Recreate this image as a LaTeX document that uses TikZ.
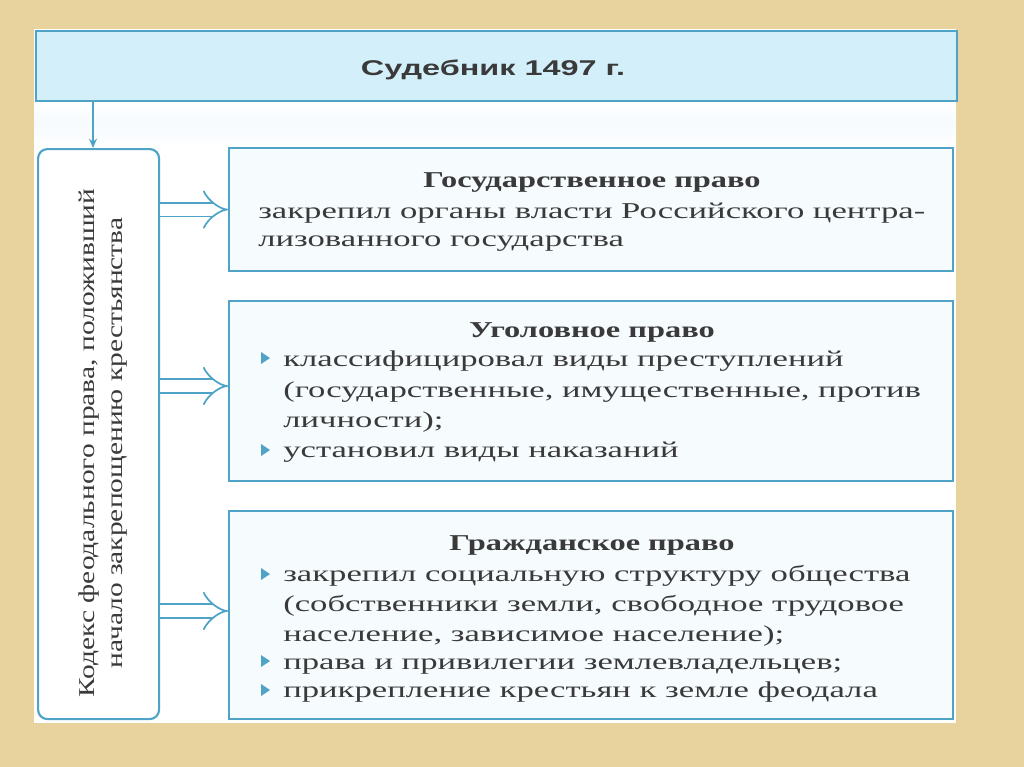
\documentclass[tikz,border=0pt]{standalone}
\usepackage{fontspec}
\usetikzlibrary{arrows.meta}
\newfontfamily\bodyfont{Liberation Serif}[FakeStretch=1.53]
\newfontfamily\ttlfont{Liberation Serif}[FakeStretch=1.43]
\newfontfamily\vfont{Liberation Serif}[FakeStretch=1.3]
\newfontfamily\headfont{Liberation Sans}[FakeStretch=1.52]
\definecolor{tan}{HTML}{E8D39F}
\definecolor{edge}{HTML}{4FA3C6}
\definecolor{barfill}{HTML}{D3F0FA}
\definecolor{boxfill}{HTML}{F6FBFE}
\definecolor{ink}{HTML}{3A3A3A}
\tikzset{
  box/.style={draw=edge, line width=1.6pt, fill=boxfill, anchor=north west, inner sep=0pt},
  ttl/.style={font=\ttlfont\fontsize{17}{19}\selectfont\bfseries, text=ink, inner sep=0pt, anchor=base},
  txt/.style={font=\bodyfont\fontsize{17}{19}\selectfont, text=ink, inner sep=0pt, anchor=base west},
  vtxt/.style={font=\vfont\fontsize{17}{19}\selectfont, text=ink, inner sep=0pt, rotate=90},
  bul/.style={fill=edge},
  dbl/.style={draw=edge, line width=1.3pt, double=white, double distance=9pt, -{Implies}},
  conn/.style={draw=edge, line width=1.2pt, -{Stealth[length=7pt,width=6pt]}}
}
\begin{document}
\begin{tikzpicture}[x=0.75pt,y=-0.75pt]
\useasboundingbox (0,0) rectangle (1024,767);
\fill[tan] (0,0) rectangle (1024,767);
\fill[white] (34,29) rectangle (956,723);
\shade[top color=white, bottom color=white, middle color=boxfill] (34,100) rectangle (956,148);
% title bar
\node[box, fill=barfill, minimum width=921*0.75pt, minimum height=70*0.75pt] (bar) at (35,30) {};
\node[font=\headfont\fontsize{16}{18}\selectfont\bfseries, text=ink, inner sep=0pt] (title) at (493,70) {Судебник 1497 г.};
% left box
\node[box, rounded corners=7pt, fill=white, minimum width=121*0.75pt, minimum height=570*0.75pt] (left) at (37,148) {};
\node[vtxt] (l1) at (89,443) {Кодекс феодального права, положивший};
\node[vtxt] (l2) at (120,443) {начало закрепощению крестьянства};
\draw[conn] (bar.south -| 93,0) coordinate (c0) -- (left.north -| c0);
% box 1
\node[box, minimum width=724*0.75pt, minimum height=123*0.75pt] (b1) at (228,147) {};
\node[ttl] (t1) at (592,187) {Государственное право};
\node[txt] (b1a) at (258,218) {закрепил органы власти Российского центра-};
\node[txt] (b1b) at (258,246) {лизованного государства};
% box 2
\node[box, minimum width=724*0.75pt, minimum height=180*0.75pt] (b2) at (228,300) {};
\node[ttl] (t2) at (592,337) {Уголовное право};
\node[txt] (b2a) at (283,366) {классифицировал виды преступлений};
\node[txt] (b2b) at (283,397) {(государственные, имущественные, против};
\node[txt] (b2c) at (283,427) {личности);};
\node[txt] (b2d) at (283,457) {установил виды наказаний};
% box 3
\node[box, minimum width=724*0.75pt, minimum height=208*0.75pt] (b3) at (228,510) {};
\node[ttl] (t3) at (592,550) {Гражданское право};
\node[txt] (b3a) at (283,581) {закрепил социальную структуру общества};
\node[txt] (b3b) at (283,611) {(собственники земли, свободное трудовое};
\node[txt] (b3c) at (283,641) {население, зависимое население);};
\node[txt] (b3d) at (283,669) {права и привилегии землевладельцев;};
\node[txt] (b3e) at (283,697) {прикрепление крестьян к земле феодала};
% bullets
\foreach \yy in {358,450,574,661,690}{
  \fill[bul] (261,\yy-6) -- (270,\yy) -- (261,\yy+6) -- cycle;
}
% double arrows
\draw[dbl] (left.east |- b1.west) -- (b1.west);
\draw[dbl] (left.east |- 0,386) coordinate (c2) -- (b2.west |- c2);
\draw[dbl] (left.east |- 0,611) coordinate (c3) -- (b3.west |- c3);
\end{tikzpicture}
\end{document}
